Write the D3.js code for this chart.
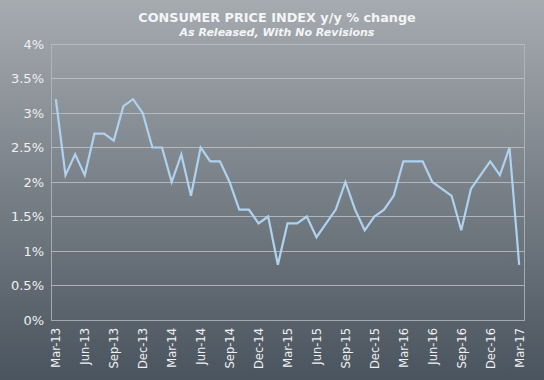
<!DOCTYPE html>
<html><head><meta charset="utf-8">
<script src="https://cdn.jsdelivr.net/npm/d3@7"></script>
<style>html,body{margin:0;padding:0;overflow:hidden;}svg{display:block;}</style>
</head><body>
<script>
const months = ["Mar-13","Apr-13","May-13","Jun-13","Jul-13","Aug-13","Sep-13","Oct-13","Nov-13","Dec-13",
"Jan-14","Feb-14","Mar-14","Apr-14","May-14","Jun-14","Jul-14","Aug-14","Sep-14","Oct-14","Nov-14","Dec-14",
"Jan-15","Feb-15","Mar-15","Apr-15","May-15","Jun-15","Jul-15","Aug-15","Sep-15","Oct-15","Nov-15","Dec-15",
"Jan-16","Feb-16","Mar-16","Apr-16","May-16","Jun-16","Jul-16","Aug-16","Sep-16","Oct-16","Nov-16","Dec-16",
"Jan-17","Feb-17","Mar-17"];
const cpi = [3.2,2.1,2.4,2.1,2.7,2.7,2.6,3.1,3.2,3.0,2.5,2.5,2.0,2.4,1.8,2.5,2.3,2.3,2.0,1.6,1.6,1.4,1.5,0.8,
1.4,1.4,1.5,1.2,1.4,1.6,2.0,1.6,1.3,1.5,1.6,1.8,2.3,2.3,2.3,2.0,1.9,1.8,1.3,1.9,2.1,2.3,2.1,2.5,0.8];
const yTicks = [0,0.5,1,1.5,2,2.5,3,3.5,4];
const xTickLabels = ["Mar-13","Jun-13","Sep-13","Dec-13","Mar-14","Jun-14","Sep-14","Dec-14","Mar-15","Jun-15","Sep-15","Dec-15","Mar-16","Jun-16","Sep-16","Dec-16","Mar-17"];
const title = "CONSUMER PRICE INDEX y/y % change";
const subtitle = "As Released, With No Revisions";

const W = 544, H = 380;
const m = {left:51, right:20, top:44, bottom:60};
const svg = d3.select("body").append("svg").attr("width",W).attr("height",H);
const defs = svg.append("defs");
const g = defs.append("linearGradient").attr("id","bg").attr("x1",0).attr("y1",0).attr("x2",0).attr("y2",1);
g.append("stop").attr("offset","0%").attr("stop-color","#a6abb0");
g.append("stop").attr("offset","100%").attr("stop-color","#4a545e");
svg.append("rect").attr("width",W).attr("height",H).attr("fill","url(#bg)");

const x = d3.scalePoint().domain(months).range([m.left, W-m.right]).padding(0.5);
const y = d3.scaleLinear().domain([0,4]).range([H-m.bottom, m.top]);

// gridlines
svg.append("g").selectAll("line").data(yTicks.filter(d=>d>0)).join("line")
  .attr("x1",m.left).attr("x2",W-m.right).attr("y1",d=>y(d)).attr("y2",d=>y(d))
  .attr("stroke","#c4c9cd").attr("stroke-opacity",0.75).attr("stroke-width",1).attr("shape-rendering","crispEdges");
// plot border
svg.append("rect").attr("x",m.left).attr("y",m.top).attr("width",W-m.right-m.left).attr("height",H-m.bottom-m.top)
  .attr("fill","none").attr("stroke","#b4babf").attr("stroke-opacity",0.8).attr("shape-rendering","crispEdges");

// y axis
const ya = svg.append("g").attr("transform",`translate(${m.left},0)`)
  .call(d3.axisLeft(y).tickValues(yTicks).tickSize(0).tickPadding(7).tickFormat(d=>d3.format("~g")(d)+"%"));
ya.select(".domain").remove();
ya.selectAll("text").attr("fill","#eef0f2").style("font-family","DejaVu Sans, Verdana, sans-serif").style("font-size","13px");

// x axis
const xa = svg.append("g").attr("transform",`translate(0,${H-m.bottom})`)
  .call(d3.axisBottom(x).tickValues(xTickLabels).tickSize(0).tickPadding(0));
xa.select(".domain").remove();
xa.selectAll("text").attr("fill","#eef0f2").style("font-family","DejaVu Sans, Verdana, sans-serif").style("font-size","11.5px")
  .attr("transform","rotate(-90)").attr("x",-8).attr("y",0).attr("dy","0.35em").attr("text-anchor","end");

// line
svg.append("path").datum(cpi)
  .attr("d", d3.line().x((d,i)=>x(months[i])).y(d=>y(d)))
  .attr("fill","none").attr("stroke","#afd2ef").attr("stroke-width",2.2).attr("stroke-linejoin","miter");

// titles
svg.append("text").attr("x",277).attr("y",22).attr("text-anchor","middle").attr("fill","#f4f5f6")
  .style("font-family","DejaVu Sans, Verdana, sans-serif").style("font-weight","bold").style("font-size","12.8px").text(title);
svg.append("text").attr("x",277).attr("y",36).attr("text-anchor","middle").attr("fill","#f4f5f6")
  .style("font-family","DejaVu Sans, Verdana, sans-serif").style("font-weight","bold").style("font-style","italic").style("font-size","11px").text(subtitle);
</script>
</body></html>
